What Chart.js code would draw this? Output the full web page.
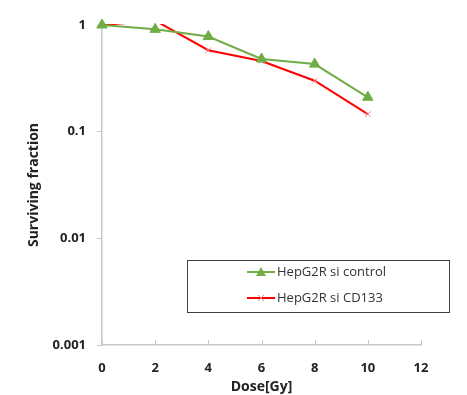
<!DOCTYPE html>
<html>
<head>
<meta charset="utf-8">
<script src="https://cdn.jsdelivr.net/npm/chart.js@4"></script>
<style>
  html, body { margin: 0; padding: 0; background: #fff; }
  #wrap { width: 467px; height: 395px; position: relative; }
</style>
</head>
<body>
<div id="wrap"><canvas id="myChart" width="467" height="395"></canvas></div>
<script>
let doses = [0, 2, 4, 6, 8, 10];
let controlValues = [1.0, 0.91, 0.78, 0.48, 0.43, 0.21];
let cd133Values = [1.0, 1.1, 0.58, 0.46, 0.30, 0.146];
let seriesNames = ["HepG2R si control", "HepG2R si CD133"];
let yTicks = [0.001, 0.01, 0.1, 1];
let yTickLabels = ["0.001", "0.01", "0.1", "1"];

let green = "#70ad47";
let red = "#ff0000";
let axisGray = "#c8c8c8";

function toPoints(values) {
    return doses.map((d, i) => ({ x: d, y: values[i] }));
}

// x ticks point inward in the original, so draw them by hand
let innerTicks = {
    id: "innerTicks",
    afterDraw(chart) {
        let ctx = chart.ctx;
        let xs = chart.scales.x;
        let bottom = chart.chartArea.bottom;
        ctx.save();
        ctx.strokeStyle = axisGray;
        ctx.lineWidth = 1;
        xs.ticks.forEach(t => {
            let px = Math.round(xs.getPixelForValue(t.value)) + 0.5;
            ctx.beginPath();
            ctx.moveTo(px, bottom);
            ctx.lineTo(px, bottom - 5);
            ctx.stroke();
        });
        ctx.restore();
    }
};

// boxed legend floating inside the plot
let boxLegend = {
    id: "boxLegend",
    afterDraw(chart) {
        let ctx = chart.ctx;
        ctx.save();
        ctx.strokeStyle = "#404040";
        ctx.lineWidth = 1;
        ctx.strokeRect(187.5, 260.5, 262, 52);
        chart.data.datasets.forEach((ds, i) => {
            let y = 272 + i * 26;
            ctx.strokeStyle = ds.borderColor;
            ctx.lineWidth = 2;
            ctx.beginPath();
            ctx.moveTo(247, y);
            ctx.lineTo(275, y);
            ctx.stroke();
            if (ds.pointStyle === "triangle") {
                ctx.fillStyle = ds.pointBackgroundColor;
                ctx.beginPath();
                ctx.moveTo(261, y - 5);
                ctx.lineTo(266, y + 4);
                ctx.lineTo(256, y + 4);
                ctx.closePath();
                ctx.fill();
            } else {
                ctx.strokeStyle = ds.pointBorderColor;
                ctx.lineWidth = 1;
                ctx.beginPath();
                ctx.moveTo(258, y - 3); ctx.lineTo(264, y + 3);
                ctx.moveTo(264, y - 3); ctx.lineTo(258, y + 3);
                ctx.stroke();
            }
            ctx.fillStyle = "#333";
            ctx.font = "13px 'Open Sans'";
            ctx.textBaseline = "middle";
            ctx.fillText(ds.label, 277, y);
        });
        ctx.restore();
    }
};

let chart = new Chart(document.getElementById("myChart"), {
    type: "line",
    data: {
        datasets: [{
            label: seriesNames[0],
            data: toPoints(controlValues),
            borderColor: green,
            backgroundColor: green,
            borderWidth: 2,
            pointStyle: "triangle",
            pointRadius: 6,
            pointBackgroundColor: green,
            pointBorderColor: green,
            pointBorderWidth: 1,
            clip: false
        }, {
            label: seriesNames[1],
            data: toPoints(cd133Values),
            borderColor: red,
            backgroundColor: red,
            borderWidth: 2,
            pointStyle: "crossRot",
            pointRadius: 4,
            pointBorderColor: "#ff8080",
            pointBorderWidth: 1,
            clip: { left: 8, top: 1, right: 8, bottom: 8 }
        }]
    },
    options: {
        responsive: false,
        animation: false,
        layout: { padding: { left: 26, right: 46, top: 25, bottom: 0 } },
        plugins: { legend: { display: false }, tooltip: { enabled: false } },
        scales: {
            x: {
                type: "linear",
                min: 0,
                max: 12,
                ticks: {
                    stepSize: 2,
                    padding: 15,
                    color: "#222",
                    font: { family: "'Open Sans'", size: 13, weight: "bold" }
                },
                grid: { drawOnChartArea: false, drawTicks: false },
                border: { color: axisGray, width: 1.5 },
                title: {
                    display: true,
                    text: "Dose[Gy]",
                    color: "#222",
                    padding: 0,
                    font: { family: "'Open Sans'", size: 14, weight: "bold" }
                },
                afterFit(scale) { scale.height = 50; }
            },
            y: {
                type: "logarithmic",
                min: 0.001,
                max: 1,
                afterBuildTicks(scale) {
                    scale.ticks = yTicks.map(v => ({ value: v }));
                },
                ticks: {
                    padding: 11,
                    color: "#222",
                    font: { family: "'Open Sans'", size: 13, weight: "bold" },
                    callback: (v) => yTickLabels[yTicks.indexOf(v)] ?? ""
                },
                grid: { drawOnChartArea: false, tickLength: 5, color: axisGray },
                border: { color: axisGray, width: 1.5 },
                title: {
                    display: true,
                    text: "Surviving fraction",
                    color: "#222",
                    padding: 0,
                    font: { family: "'Open Sans'", size: 14, weight: "bold" }
                },
                afterFit(scale) { scale.width = 76; }
            }
        }
    },
    plugins: [innerTicks, boxLegend]
});
</script>
</body>
</html>
